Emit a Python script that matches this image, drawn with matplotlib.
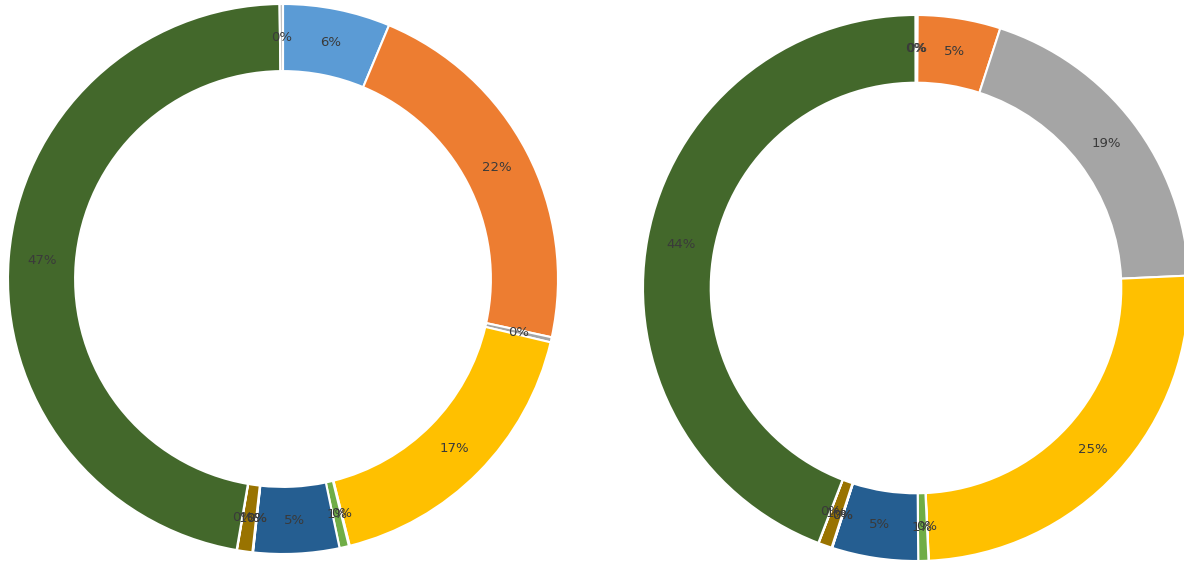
import matplotlib
matplotlib.use("Agg")
import matplotlib.pyplot as plt

# slice colours, in series order
colors = ["#5B9BD5", "#ED7D31", "#A5A5A5", "#FFC000", "#4472C4", "#70AD47",
          "#255E91", "#9E480E", "#636363", "#997300", "#264478", "#43682B", "#BFBFBF"]

# shares in percent
left_values = [6.3, 22.1, 0.3, 17.4, 0.05, 0.55, 5.04, 0.02, 0.02, 0.9, 0.02, 47.1, 0.2]
right_values = [0.1, 4.9, 19.3, 25.0, 0.02, 0.6, 5.1, 0.02, 0.02, 0.8, 0.02, 44.2, 0.02]

W, H = 1184, 562
fig = plt.figure(figsize=(W / 100, H / 100), dpi=100)


def donut(values, cx, cy, r, hole):
    ax = fig.add_axes([(cx - r) / W, (H - cy - r) / H, 2 * r / W, 2 * r / H])
    ring = 1 - hole
    ax.pie(values, colors=colors[:len(values)], radius=1, startangle=90, counterclock=False,
           wedgeprops=dict(width=ring, edgecolor="white", linewidth=1.5),
           autopct=lambda p: "%.0f%%" % p, pctdistance=1 - ring / 2,
           textprops=dict(fontsize=9.5, color="#3A3A3A"))
    ax.set_xlim(-1, 1)
    ax.set_ylim(-1, 1)
    ax.set_aspect("equal")
    ax.axis("off")
    return ax


donut(left_values, 283, 279, 275, 0.756)
donut(right_values, 916, 288, 273, 0.752)

fig.savefig("out.png", dpi=100, facecolor="white")
